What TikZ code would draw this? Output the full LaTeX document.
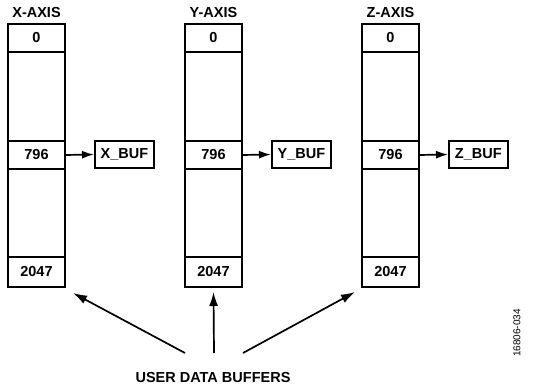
\documentclass[tikz,border=0pt]{standalone}
\usepackage{fontspec}
\setmainfont{Liberation Sans}
\usetikzlibrary{arrows.meta}

\begin{document}
\begin{tikzpicture}[x=1pt,y=-1pt,line width=1.7pt,
  font=\bfseries\fontsize{14.5}{16}\selectfont,
  colbox/.style={draw,minimum width=57pt,minimum height=263pt,inner sep=0pt,outer sep=0pt},
  cell/.style={draw,minimum width=57pt,minimum height=28pt,inner sep=0pt,outer sep=0pt},
  bufbox/.style={draw,minimum width=59pt,minimum height=27pt,inner sep=0pt},
  ptr/.style={-{Latex[length=12pt,width=8pt]}},
  bigptr/.style={-{Latex[length=14pt,width=9pt]}}]
\useasboundingbox (0,0) rectangle (533,390);
\foreach \a/\x in {X/8,Y/185,Z/362}{
  \begin{scope}[shift={(\x,0)}]
  \node[colbox,anchor=north west] (\a col) at (0,24) {};
  \node[cell,anchor=north west] (\a0) at (0,24) {0};
  \node[cell,anchor=north west] (\a796) at (0,141) {796};
  \node[cell,anchor=south west,minimum height=30pt] (\a2047) at (0,287) {2047};
  \node (\a lab) at (28.5,13) {\a-AXIS};
  \node[bufbox,anchor=west] (\a buf) at (86,154.5) {\a\_BUF};
  \draw[ptr] (\a796.east) -- (\a buf.west);
  \end{scope}
}
% pointers to the buffers
\node (ubuf) at (213,378) {USER DATA BUFFERS};
\coordinate (ul) at (185,353);
\coordinate (um) at (214,353);
\coordinate (ur) at (243,353);
\coordinate (xtip) at ([shift={(8,6)}]X2047.south east);
\coordinate (ytip) at ([shift={(0,5)}]Y2047.south);
\coordinate (ztip) at ([shift={(-7,5)}]Z2047.south west);
\draw[bigptr] (ul) -- (xtip);
\draw[bigptr] (um) -- (ytip);
\draw[bigptr] (ur) -- (ztip);
\node[rotate=90,font=\fontsize{10}{11}\selectfont] (fignum) at (517,333) {16806-034};
\end{tikzpicture}
\end{document}
